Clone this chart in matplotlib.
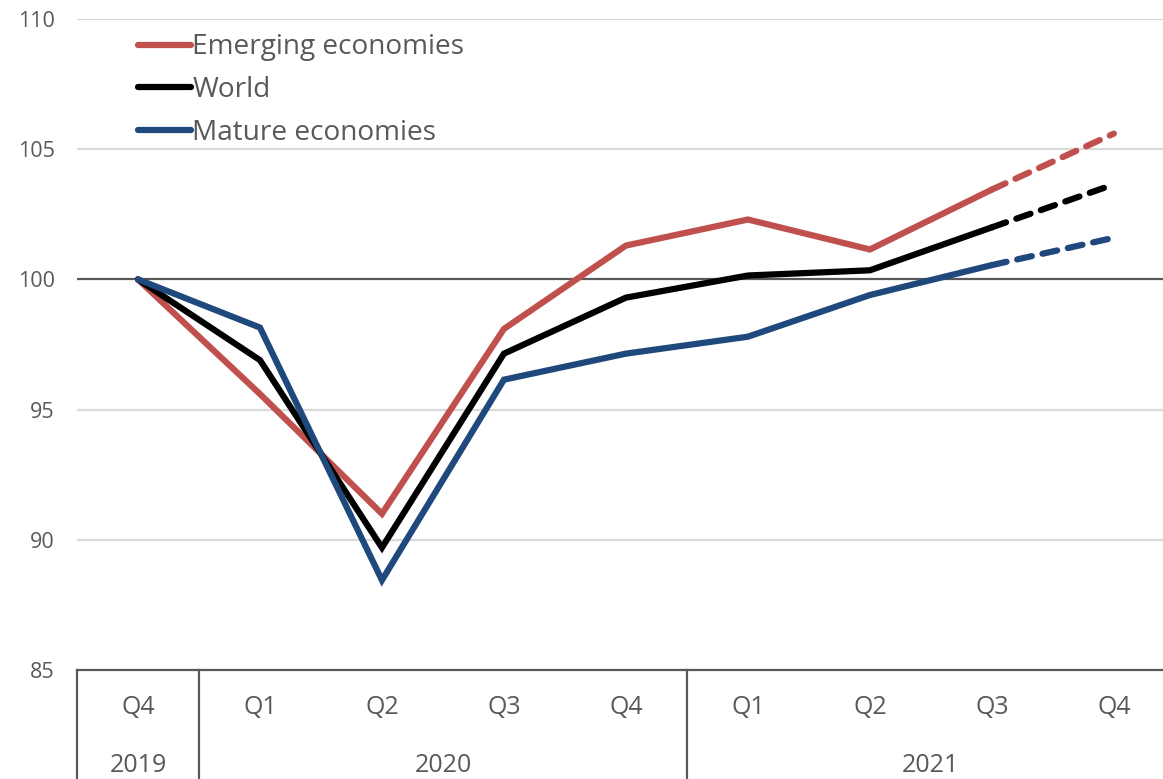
import numpy as np
import matplotlib.pyplot as plt
import matplotlib.transforms as mtransforms

plt.rcParams['font.family'] = ['Open Sans', 'DejaVu Sans']

## Data: index, Q4 2019 = 100

quarters = ['Q4', 'Q1', 'Q2', 'Q3', 'Q4', 'Q1', 'Q2', 'Q3', 'Q4']
years = ['2019', '2020', '2021']
year_spans = [(0, 0), (1, 4), (5, 8)]

emerging = [100.0, 95.6, 91.0, 98.1, 101.3, 102.3, 101.15, 103.45, 105.6]
world = [100.0, 96.9, 89.7, 97.15, 99.3, 100.15, 100.35, 102.0, 103.65]
mature = [100.0, 98.15, 88.45, 96.15, 97.15, 97.8, 99.4, 100.55, 101.6]

n_actual = 8  # last point is a forecast

series = [
    ('Emerging economies', emerging, '#C0504D'),
    ('World', world, '#000000'),
    ('Mature economies', mature, '#1F497D'),
]

grey = '#595959'

## Plotting

fig = plt.figure(figsize=(11.63, 7.79), dpi=100)
ax = fig.add_axes([0.0662, 0.1399, 0.944, 0.8357])

x = np.arange(len(quarters))

for name, vals, col in series:
    vals = np.array(vals)
    ax.plot(x[:n_actual], vals[:n_actual], color=col, lw=4.5,
            solid_capstyle='round', solid_joinstyle='miter', label=name, zorder=3)
    ax.plot(x[n_actual - 1:], vals[n_actual - 1:], color=col, lw=4.5,
            dashes=(2.4, 1.75), dash_capstyle='round', zorder=3)

ax.set_xlim(-0.5, len(quarters) - 0.5)
ax.set_ylim(85, 110)
ax.set_yticks([85, 90, 95, 100, 105, 110])
for yv in [90, 95, 105, 110]:
    ax.axhline(yv, color='#D9D9D9', lw=1.6, zorder=1)
ax.axhline(100, color=grey, lw=1.6, zorder=2)

for s in ['top', 'right', 'left']:
    ax.spines[s].set_visible(False)
ax.spines['bottom'].set_color(grey)
ax.spines['bottom'].set_linewidth(1.6)

ax.tick_params(axis='y', length=0, pad=16, labelsize=15.5, labelcolor=grey)
ax.set_xticks([])

# category axis with quarter and year rows
trans = mtransforms.blended_transform_factory(ax.transData, ax.transAxes)
for i, q in enumerate(quarters):
    ax.text(i, -0.058, q, transform=trans, ha='center', va='center',
            fontsize=18, color=grey)
for yr, (a, b) in zip(years, year_spans):
    ax.text((a + b) / 2, -0.147, yr, transform=trans, ha='center', va='center',
            fontsize=18, color=grey)
for edge in [-0.5, 0.5, 4.5, 8.5]:
    ax.plot([edge, edge], [0, -0.25], transform=trans, color=grey, lw=1.6,
            clip_on=False)

leg = ax.legend(loc='upper left', bbox_to_anchor=(0.045, 0.995), frameon=False,
                fontsize=20.2, handlelength=1.9, handletextpad=0.05,
                labelspacing=0.52, borderaxespad=0)
for t in leg.get_texts():
    t.set_color(grey)

fig.savefig('out.png', dpi=100)
